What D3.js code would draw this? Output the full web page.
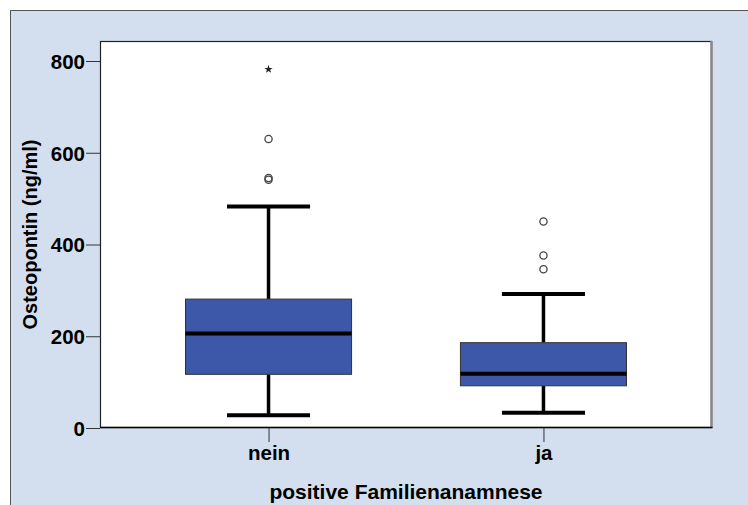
<!DOCTYPE html>
<html>
<head>
<meta charset="utf-8">
<script src="https://cdn.jsdelivr.net/npm/d3@7"></script>
<style>
  html, body { margin: 0; padding: 0; background: #fff; }
  svg { display: block; }
  text { font-family: "Liberation Sans", Arial, sans-serif; font-weight: bold; }
</style>
</head>
<body>
<svg id="chart" width="748" height="505"></svg>
<script>
// ---- Data ----
const categories   = ["nein", "ja"];
const whiskerLow   = [28, 33];
const q1           = [117, 92];
const median       = [206, 118];
const q3           = [281, 186];
const whiskerHigh  = [483, 292];
const outliers     = [[541, 545, 630], [346, 376, 450]];
const extremes     = [[782], []];
const yTicks       = [0, 200, 400, 600, 800];
const xTitle       = "positive Familienanamnese";
const yTitle       = "Osteopontin (ng/ml)";

// ---- Layout ----
const W = 748, H = 505;
const plot = { left: 100, top: 41, right: 712, bottom: 428 };

const svg = d3.select("#chart");

// outer panel
svg.append("rect").attr("x", 10.5).attr("y", 10.5).attr("width", W + 20).attr("height", H + 20)
  .attr("fill", "#d3dfee").attr("stroke", "#555").attr("stroke-width", 1);

const y = d3.scaleLinear().domain([0, 843.6]).range([plot.bottom, plot.top]);
const x = d3.scalePoint().domain(categories).range([plot.left, plot.right]).padding(0.613);
const boxW = x.step() * 0.604;
const capW = boxW / 2;

// plot background
svg.append("rect").attr("x", plot.left).attr("y", plot.top)
  .attr("width", plot.right - plot.left).attr("height", plot.bottom - plot.top)
  .attr("fill", "#fff");

// axes
const yAxis = d3.axisLeft(y).tickValues(yTicks).tickSize(14).tickPadding(1).tickFormat(d3.format("d"));
const gy = svg.append("g").attr("transform", `translate(${plot.left},0)`).call(yAxis);
gy.select(".domain").remove();
gy.selectAll(".tick line").attr("stroke", "#333");
gy.selectAll(".tick text").attr("fill", "#000").style("font-size", "20.5px").attr("dy", "0.36em");

const xAxis = d3.axisBottom(x).tickSize(14).tickPadding(3);
const gx = svg.append("g").attr("transform", `translate(0,${plot.bottom})`).call(xAxis);
gx.select(".domain").remove();
gx.selectAll(".tick line").attr("stroke", "#333");
gx.selectAll(".tick text").attr("fill", "#000").style("font-size", "20.5px");

// boxes
const data = categories.map((c, i) => ({
  c, lw: whiskerLow[i], q1: q1[i], med: median[i], q3: q3[i], hw: whiskerHigh[i],
  out: outliers[i], ext: extremes[i]
}));

const g = svg.append("g");
data.forEach(d => {
  const cx = x(d.c);
  // whisker stems
  g.append("line").attr("x1", cx).attr("x2", cx).attr("y1", y(d.q3)).attr("y2", y(d.hw))
    .attr("stroke", "#000").attr("stroke-width", 3.5);
  g.append("line").attr("x1", cx).attr("x2", cx).attr("y1", y(d.q1)).attr("y2", y(d.lw))
    .attr("stroke", "#000").attr("stroke-width", 3.5);
  // caps
  [d.lw, d.hw].forEach(v => {
    g.append("line").attr("x1", cx - capW / 2).attr("x2", cx + capW / 2)
      .attr("y1", y(v)).attr("y2", y(v)).attr("stroke", "#000").attr("stroke-width", 4);
  });
  // box
  g.append("rect").attr("x", cx - boxW / 2).attr("y", y(d.q3))
    .attr("width", boxW).attr("height", y(d.q1) - y(d.q3))
    .attr("fill", "#3d58a8").attr("stroke", "#333").attr("stroke-width", 1);
  // median
  g.append("line").attr("x1", cx - boxW / 2).attr("x2", cx + boxW / 2)
    .attr("y1", y(d.med)).attr("y2", y(d.med)).attr("stroke", "#000").attr("stroke-width", 4);
  // outliers
  d.out.forEach(v => {
    g.append("circle").attr("cx", cx).attr("cy", y(v)).attr("r", 3.6)
      .attr("fill", "none").attr("stroke", "#444").attr("stroke-width", 1.3);
  });
  // extremes
  d.ext.forEach(v => {
    g.append("path").attr("d", d3.symbol(d3.symbolStar, 22)())
      .attr("transform", `translate(${cx},${y(v)})`).attr("fill", "#222");
  });
});

// plot frame
svg.append("rect").attr("x", plot.left + 0.5).attr("y", plot.top + 0.5)
  .attr("width", plot.right - plot.left - 1).attr("height", plot.bottom - plot.top - 1)
  .attr("fill", "none").attr("stroke", "#222").attr("stroke-width", 1.2);
svg.append("line").attr("x1", plot.right - 0.5).attr("x2", plot.right - 0.5)
  .attr("y1", plot.top).attr("y2", plot.bottom)
  .attr("stroke", "#888").attr("stroke-width", 2.5);
svg.append("line").attr("x1", plot.left).attr("x2", plot.right + 0.5)
  .attr("y1", plot.bottom - 0.5).attr("y2", plot.bottom - 0.5)
  .attr("stroke", "#000").attr("stroke-width", 1.5);

// titles
svg.append("text").attr("x", (plot.left + plot.right) / 2).attr("y", 499)
  .attr("text-anchor", "middle").style("font-size", "21px").attr("fill", "#000").text(xTitle);
svg.append("text").attr("transform", `translate(37,${(plot.top + plot.bottom) / 2}) rotate(-90)`)
  .attr("text-anchor", "middle").style("font-size", "20px").attr("fill", "#000").text(yTitle);
</script>
</body>
</html>
